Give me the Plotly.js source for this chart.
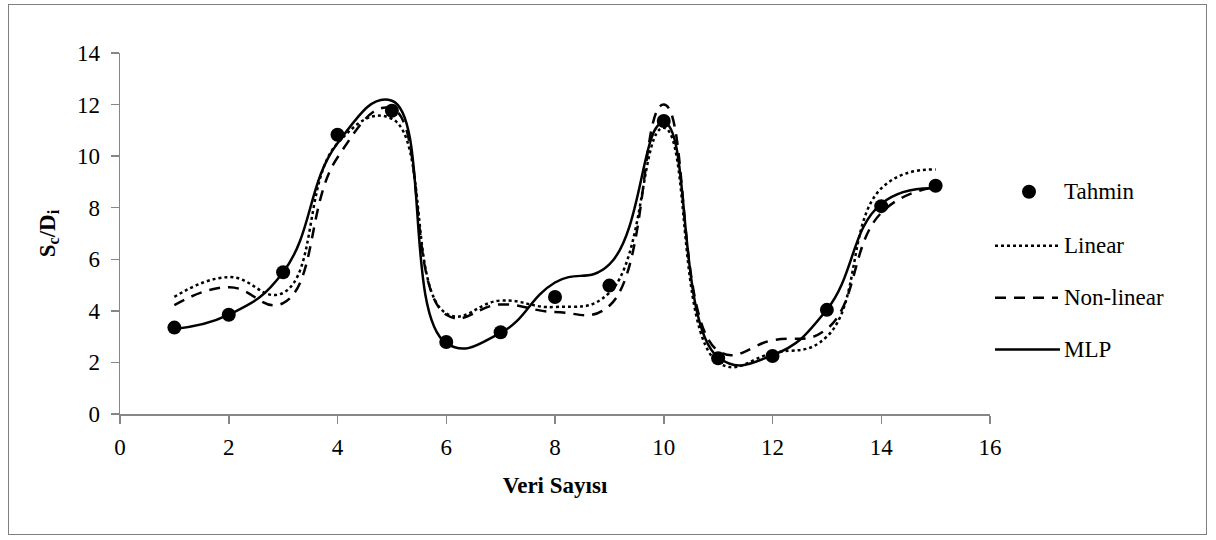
<!DOCTYPE html>
<html>
<head>
<meta charset="utf-8">
<script src="https://cdn.plot.ly/plotly-3.0.1.min.js"></script>
<style>
html,body{margin:0;padding:0;background:#fff;}
#wrap{position:relative;width:1216px;height:540px;}
#chart{width:1216px;height:540px;}
#frame{position:absolute;left:8px;top:4px;width:1199px;height:531px;border:1.5px solid #7f7f7f;pointer-events:none;box-sizing:border-box;}
</style>
</head>
<body>
<div id="wrap"><div id="chart"></div><div id="frame"></div></div>
<script>
const xValues = [1,2,3,4,5,6,7,8,9,10,11,12,13,14,15];
const tahmin = [3.35,3.85,5.5,10.83,11.76,2.79,3.17,4.54,4.98,11.36,2.16,2.25,4.04,8.06,8.85];
const linear = [4.54,5.31,4.7,10.5,11.45,3.9,4.4,4.15,4.7,11.1,2.0,2.36,3.0,8.75,9.48];
const nonLinear = [4.22,4.92,4.3,9.95,11.85,3.85,4.25,3.96,4.2,12.0,2.45,2.86,3.3,7.8,8.8];
const mlp = [3.3,3.85,5.5,10.5,12.15,2.75,3.15,5.1,5.8,11.3,2.2,2.28,4.05,8.15,8.75];
const seriesNames = ['Tahmin','Linear','Non-linear','MLP'];
const xTicks = [0,2,4,6,8,10,12,14,16];
const yTicks = [0,2,4,6,8,10,12,14];

const FONT = 'Liberation Serif';
const lw = 2.5;
const sm = 1.3;

const traces = [
  {x:xValues,y:linear,mode:'lines',name:seriesNames[1],line:{color:'#000',width:lw,dash:'dot',shape:'spline',smoothing:sm},showlegend:false,hoverinfo:'skip'},
  {x:xValues,y:nonLinear,mode:'lines',name:seriesNames[2],line:{color:'#000',width:lw,dash:'11px,8px',shape:'spline',smoothing:sm},showlegend:false,hoverinfo:'skip'},
  {x:xValues,y:mlp,mode:'lines',name:seriesNames[3],line:{color:'#000',width:lw,shape:'spline',smoothing:sm},showlegend:false,hoverinfo:'skip'},
  {x:xValues,y:tahmin,mode:'markers',name:seriesNames[0],marker:{color:'#000',size:14,symbol:'circle'},showlegend:false,hoverinfo:'skip'}
];

const L = 120, R = 990, T = 53, B = 414.5;
const px = v => (v - L) / (R - L);
const py = v => (B - v) / (B - T);
const legendRows = [192, 246, 298, 350];
const shapes = [];
const annotations = [];
legendRows.forEach((yy, i) => {
  if (i === 1) shapes.push({type:'line',xref:'paper',yref:'paper',x0:px(995),x1:px(1058),y0:py(yy),y1:py(yy),line:{color:'#000',width:lw,dash:'dot'}});
  if (i === 2) shapes.push({type:'line',xref:'paper',yref:'paper',x0:px(995),x1:px(1058),y0:py(yy),y1:py(yy),line:{color:'#000',width:lw,dash:'11px,8px'}});
  if (i === 3) shapes.push({type:'line',xref:'paper',yref:'paper',x0:px(995),x1:px(1060),y0:py(yy),y1:py(yy),line:{color:'#000',width:lw}});
  annotations.push({xref:'paper',yref:'paper',x:px(1062),y:py(yy),xanchor:'left',yanchor:'middle',showarrow:false,text:seriesNames[i],font:{family:FONT,size:23,color:'#000'}});
});
shapes.push({type:'circle',xref:'paper',yref:'paper',x0:px(1022),x1:px(1036),y0:py(185),y1:py(199),fillcolor:'#000',line:{color:'#000',width:0}});

const layout = {
  width:1216,height:540,
  margin:{l:L,r:1216-R,t:T,b:540-B},
  paper_bgcolor:'#fff',plot_bgcolor:'#fff',
  font:{family:FONT,size:23,color:'#000'},
  showlegend:false,
  xaxis:{range:[0,16],tickvals:xTicks,ticktext:xTicks.map(String),ticks:'outside',ticklen:8,tickwidth:1.5,tickcolor:'#868686',
    showline:true,linecolor:'#868686',linewidth:1.5,showgrid:false,zeroline:false,ticklabelstandoff:4,
    tickfont:{family:FONT,size:23,color:'#000'},
    title:{text:'<b>Veri Sayısı</b>',font:{family:FONT,size:23,color:'#000'},standoff:18}},
  yaxis:{range:[0,14],tickvals:yTicks,ticktext:yTicks.map(String),ticks:'outside',ticklen:8,tickwidth:1.5,tickcolor:'#868686',
    showline:true,linecolor:'#868686',linewidth:1.5,showgrid:false,zeroline:false,ticklabelstandoff:6,
    tickfont:{family:FONT,size:23,color:'#000'},
    title:{text:'<b>S<sub>c</sub>/D<sub>i</sub></b>',font:{family:FONT,size:23,color:'#000'},standoff:15}},
  shapes:shapes,
  annotations:annotations
};

Plotly.newPlot('chart',traces,layout,{displayModeBar:false,staticPlot:true});
</script>
</body>
</html>
